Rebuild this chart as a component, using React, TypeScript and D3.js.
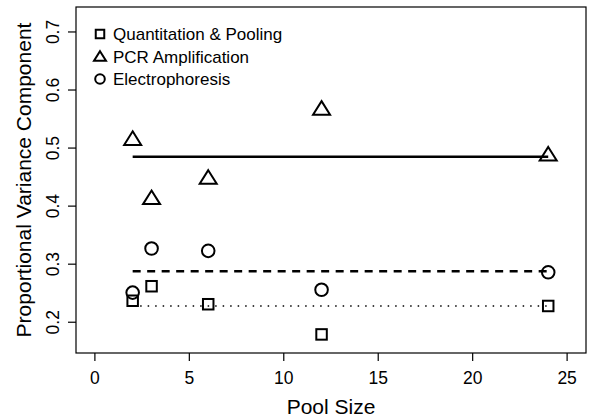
import { useEffect, useRef } from 'react';
import * as d3 from 'd3';

const poolSizes = [2, 3, 6, 12, 24];
const quantPooling = [0.237, 0.262, 0.231, 0.179, 0.228];
const pcrAmp = [0.516, 0.414, 0.449, 0.568, 0.489];
const electro = [0.251, 0.327, 0.323, 0.256, 0.286];
const meanLines = [
  { name: 'pcr', value: 0.485, dash: '', width: 2.5 },
  { name: 'electro', value: 0.288, dash: '8,6.5', width: 2.5 },
  { name: 'quant', value: 0.228, dash: '1.5,6', width: 1.5 },
];
const xTicks = [0, 5, 10, 15, 20, 25];
const yTicks = [0.2, 0.3, 0.4, 0.5, 0.6, 0.7];
const legendLabels = ['Quantitation & Pooling', 'PCR Amplification', 'Electrophoresis'];

const W = 589;
const H = 420;
const FONT = '"Liberation Sans", Arial, Helvetica, sans-serif';

export default function App() {
  const svgRef = useRef<SVGSVGElement>(null);

  useEffect(() => {
    if (!svgRef.current) return;
    const svg = d3.select(svgRef.current);
    svg.selectAll('*').remove();

    const margin = { top: 7, right: 3, bottom: 67, left: 76 };
    const x = d3.scaleLinear().domain([-1, 26]).range([margin.left, W - margin.right]);
    const y = d3.scaleLinear().domain([0.147, 0.743]).range([H - margin.bottom, margin.top]);

    // box
    svg.append('rect')
      .attr('x', margin.left)
      .attr('y', margin.top)
      .attr('width', W - margin.right - margin.left)
      .attr('height', H - margin.bottom - margin.top)
      .attr('fill', 'none')
      .attr('stroke', '#000')
      .attr('stroke-width', 1.2);

    // x axis
    const gx = svg.append('g');
    xTicks.forEach(t => {
      gx.append('line')
        .attr('x1', x(t)).attr('x2', x(t))
        .attr('y1', H - margin.bottom).attr('y2', H - margin.bottom + 8)
        .attr('stroke', '#000').attr('stroke-width', 1.2);
      gx.append('text')
        .attr('x', x(t)).attr('y', 384)
        .attr('text-anchor', 'middle')
        .attr('font-family', FONT).attr('font-size', 17.5)
        .text(t);
    });
    svg.append('text')
      .attr('x', x(12.5)).attr('y', 414)
      .attr('text-anchor', 'middle')
      .attr('font-family', FONT).attr('font-size', 21)
      .text('Pool Size');

    // y axis
    const gy = svg.append('g');
    yTicks.forEach(t => {
      gy.append('line')
        .attr('x1', margin.left - 8).attr('x2', margin.left)
        .attr('y1', y(t)).attr('y2', y(t))
        .attr('stroke', '#000').attr('stroke-width', 1.2);
      gy.append('text')
        .attr('transform', `translate(59, ${y(t)}) rotate(-90)`)
        .attr('text-anchor', 'middle')
        .attr('font-family', FONT).attr('font-size', 17.5)
        .text(t.toFixed(1));
    });
    svg.append('text')
      .attr('transform', `translate(31, ${y(0.445)}) rotate(-90)`)
      .attr('text-anchor', 'middle')
      .attr('font-family', FONT).attr('font-size', 21)
      .text('Proportional Variance Component');

    // mean lines
    meanLines.forEach(l => {
      svg.append('line')
        .attr('x1', x(poolSizes[0])).attr('x2', x(poolSizes[poolSizes.length - 1]))
        .attr('y1', y(l.value)).attr('y2', y(l.value))
        .attr('stroke', '#000')
        .attr('stroke-width', l.width)
        .attr('stroke-dasharray', l.dash || null);
    });

    const drawSquare = (g: any, cx: number, cy: number, s: number) =>
      g.append('rect')
        .attr('x', cx - s / 2).attr('y', cy - s / 2)
        .attr('width', s).attr('height', s)
        .attr('fill', 'none').attr('stroke', '#000').attr('stroke-width', 2);
    const drawTriangle = (g: any, cx: number, cy: number, s: number) => {
      const h = s * 0.8;
      g.append('path')
        .attr('d', `M${cx},${cy - h * 0.55}L${cx + s / 2},${cy + h * 0.45}L${cx - s / 2},${cy + h * 0.45}Z`)
        .attr('fill', 'none').attr('stroke', '#000').attr('stroke-width', 2)
        .attr('stroke-linejoin', 'miter');
    };
    const drawCircle = (g: any, cx: number, cy: number, r: number) =>
      g.append('circle')
        .attr('cx', cx).attr('cy', cy).attr('r', r)
        .attr('fill', 'none').attr('stroke', '#000').attr('stroke-width', 2);

    const pts = svg.append('g');
    poolSizes.forEach((p, i) => {
      drawSquare(pts, x(p), y(quantPooling[i]), 10.5);
      drawTriangle(pts, x(p), y(pcrAmp[i]), 17);
      drawCircle(pts, x(p), y(electro[i]), 6.3);
    });

    // legend
    const lg = svg.append('g');
    const ly = [34, 56.5, 79];
    drawSquare(lg, 100, ly[0], 8.5);
    drawTriangle(lg, 100, ly[1], 12);
    drawCircle(lg, 100, ly[2], 4.8);
    legendLabels.forEach((label, i) => {
      lg.append('text')
        .attr('x', 113).attr('y', ly[i] + 6)
        .attr('font-family', FONT).attr('font-size', 17)
        .text(label);
    });
  }, []);

  return (
    <svg ref={svgRef} width={W} height={H} style={{ position: 'absolute', left: 0, top: 0, background: '#fff' }} />
  );
}
